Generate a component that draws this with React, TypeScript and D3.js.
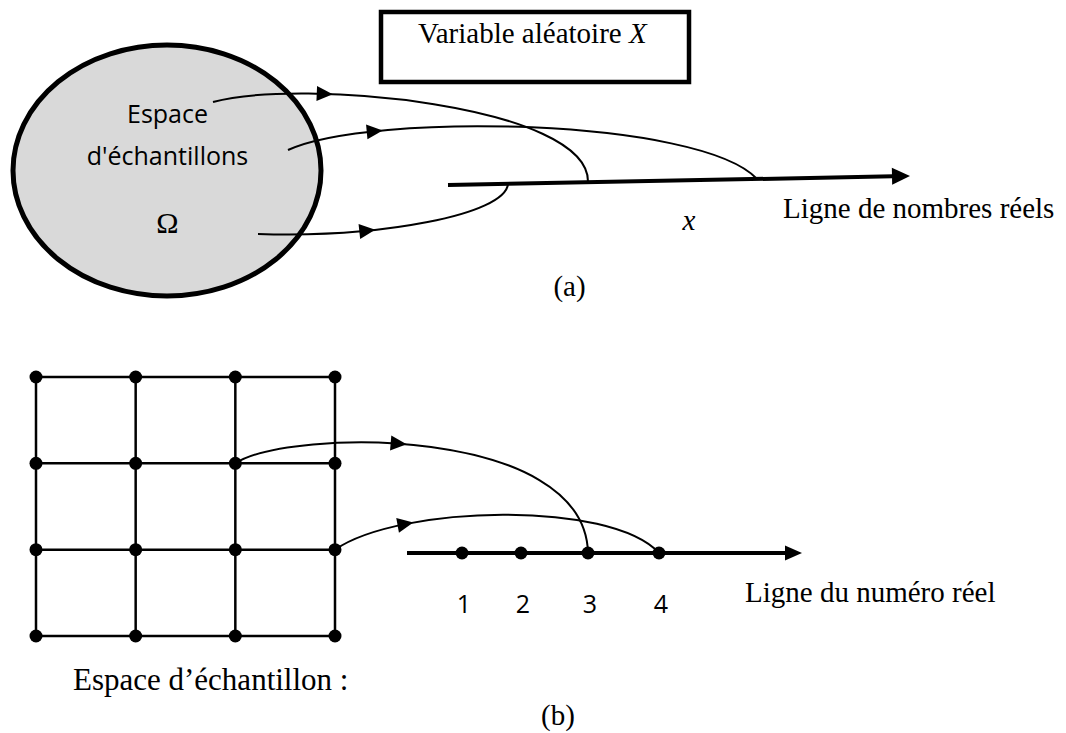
import React from "react";
import * as d3 from "d3";

// ---------- data ----------
const GRID_COLS = [0, 1, 2, 3];
const GRID_ROWS = [0, 1, 2, 3];
const REAL_VALUES = [1, 2, 3, 4];
const REAL_LABELS = ["1", "2", "3", "4"];
const SAMPLE_LABELS_A = ["Espace", "d'échantillons", "Ω"];
// mapping (a): sample label index -> position on the real line (0..1 of the axis)
const MAP_A_FROM = [0, 1, 2];
const MAP_A_TO = [0.303, 0.669, 0.13];
// mapping (b): grid node (col,row) -> real value
const MAP_B_COL = [2, 3];
const MAP_B_ROW = [1, 2];
const MAP_B_TO = [3, 4];

const TITLE_A = "Variable aléatoire ";
const TITLE_A_VAR = "X";
const AXIS_A_LABEL = "Ligne de nombres réels";
const AXIS_A_VAR = "x";
const AXIS_B_LABEL = "Ligne du numéro réel";
const GRID_LABEL = "Espace d’échantillon :";
const CAPTION_A = "(a)";
const CAPTION_B = "(b)";

// ---------- layout ----------
const W = 1066;
const H = 733;
const SERIF = "'Liberation Serif', 'Times New Roman', serif";
const SANS = "'Open Sans', 'Noto Sans', sans-serif";

type P = [number, number];

function bez(p0: P, p1: P, p2: P, p3: P, t: number): P {
  const u = 1 - t;
  return [
    u * u * u * p0[0] + 3 * u * u * t * p1[0] + 3 * u * t * t * p2[0] + t * t * t * p3[0],
    u * u * u * p0[1] + 3 * u * u * t * p1[1] + 3 * u * t * t * p2[1] + t * t * t * p3[1],
  ];
}
function bezD(p0: P, p1: P, p2: P, p3: P, t: number): P {
  const u = 1 - t;
  return [
    3 * u * u * (p1[0] - p0[0]) + 6 * u * t * (p2[0] - p1[0]) + 3 * t * t * (p3[0] - p2[0]),
    3 * u * u * (p1[1] - p0[1]) + 6 * u * t * (p2[1] - p1[1]) + 3 * t * t * (p3[1] - p2[1]),
  ];
}
function arrowHead(tip: P, dir: P, len: number, hw: number): string {
  const m = Math.hypot(dir[0], dir[1]) || 1;
  const ux = dir[0] / m, uy = dir[1] / m;
  const bx = tip[0] - ux * len, by = tip[1] - uy * len;
  const pts: P[] = [tip, [bx - uy * hw, by + ux * hw], [bx + uy * hw, by - ux * hw]];
  return "M" + pts.map((p) => p.join(",")).join("L") + "Z";
}

export default function App() {
  // ---- part (a) ----
  const axA_x = d3.scaleLinear().domain([0, 1]).range([448, 910]);
  const axA_y = d3.scaleLinear().domain([0, 1]).range([185, 176]);
  const labelBaselines = [123, 165, 233];
  const startA: P[] = [[213, 102], [288, 150], [258, 234]];
  const ctrlA: [P, P][] = [
    [[300, 78], [590, 105]],
    [[370, 112], [700, 118]],
    [[380, 238], [505, 215]],
  ];
  const arrowTA = [0.3, 0.24, 0.33];

  // ---- part (b) ----
  const gx = d3.scaleLinear().domain([0, 3]).range([36, 335]);
  const gy = d3.scaleLinear().domain([0, 3]).range([377, 636]);
  const rx = d3.scaleLinear().domain([1, 2, 3, 4]).range([462, 521, 588, 659]);
  const lineBY = 553;
  const ctrlB: [P, P][] = [
    [[290, 428], [585, 425]],
    [[400, 505], [610, 500]],
  ];
  const arrowTB = [0.45, 0.27];

  const lineGen = d3.line();

  return (
    <svg width={W} height={H} viewBox={`0 0 ${W} ${H}`} style={{ display: "block", position: "absolute", left: 0, top: 0 }}>
      <rect x={0} y={0} width={W} height={H} fill="#fff" />
      {/* ---------- (a) ---------- */}
      <ellipse cx={167} cy={170.5} rx={154} ry={125.5} fill="#d9d9d9" stroke="#000" strokeWidth={5} />
      {SAMPLE_LABELS_A.map((s, i) => (
        <text
          key={s}
          x={167.5}
          y={labelBaselines[i]}
          textAnchor="middle"
          fontFamily={i === 2 ? SERIF : SANS}
          fontSize={i === 2 ? 30 : 25}
          fill="#000"
        >
          {s}
        </text>
      ))}
      <rect x={381} y={12} width={308} height={70} fill="#fff" stroke="#000" strokeWidth={4.5} />
      <text x={418} y={43} fontFamily={SERIF} fontSize={29} fill="#000">
        {TITLE_A}
        <tspan fontStyle="italic">{TITLE_A_VAR}</tspan>
      </text>
      {/* axis a */}
      <path
        d={lineGen([[axA_x(0), axA_y(0)], [axA_x(0.963), axA_y(0.963)]]) || ""}
        stroke="#000"
        strokeWidth={4}
        fill="none"
      />
      <path d={arrowHead([axA_x(1), axA_y(1)], [axA_x(1) - axA_x(0), axA_y(1) - axA_y(0)], 18, 8.5)} fill="#000" />
      {MAP_A_FROM.map((fi, i) => {
        const s = startA[fi];
        const e: P = [axA_x(MAP_A_TO[i]), axA_y(MAP_A_TO[i])];
        const [c1, c2] = ctrlA[i];
        const path = d3.path();
        path.moveTo(s[0], s[1]);
        path.bezierCurveTo(c1[0], c1[1], c2[0], c2[1], e[0], e[1]);
        const tip = bez(s, c1, c2, e, arrowTA[i]);
        const dir = bezD(s, c1, c2, e, arrowTA[i]);
        return (
          <g key={"a" + i}>
            <path d={path.toString()} stroke="#000" strokeWidth={2} fill="none" />
            <path d={arrowHead(tip, dir, 16, 7.5)} fill="#000" />
          </g>
        );
      })}
      <text x={689} y={230} textAnchor="middle" fontFamily={SERIF} fontStyle="italic" fontSize={29} fill="#000">
        {AXIS_A_VAR}
      </text>
      <text x={783} y={218} fontFamily={SERIF} fontSize={29} fill="#000">
        {AXIS_A_LABEL}
      </text>
      <text x={569.5} y={296} textAnchor="middle" fontFamily={SERIF} fontSize={29} fill="#000">
        {CAPTION_A}
      </text>

      {/* ---------- (b) ---------- */}
      {GRID_ROWS.map((r) => (
        <line key={"h" + r} x1={gx(0)} x2={gx(3)} y1={gy(r)} y2={gy(r)} stroke="#000" strokeWidth={2.5} />
      ))}
      {GRID_COLS.map((c) => (
        <line key={"v" + c} x1={gx(c)} x2={gx(c)} y1={gy(0)} y2={gy(3)} stroke="#000" strokeWidth={2.5} />
      ))}
      {GRID_ROWS.flatMap((r) =>
        GRID_COLS.map((c) => <circle key={`d${r}-${c}`} cx={gx(c)} cy={gy(r)} r={6.5} fill="#000" />)
      )}
      <text x={73} y={690} fontFamily={SERIF} fontSize={31} fill="#000">
        {GRID_LABEL}
      </text>
      {/* number line b */}
      <line x1={407} x2={788} y1={lineBY} y2={lineBY} stroke="#000" strokeWidth={4} />
      <path d={arrowHead([802, lineBY], [1, 0], 17, 7.5)} fill="#000" />
      {MAP_B_TO.map((v, i) => {
        const s: P = [gx(MAP_B_COL[i]), gy(MAP_B_ROW[i])];
        const e: P = [rx(v), lineBY];
        const [c1, c2] = ctrlB[i];
        const path = d3.path();
        path.moveTo(s[0], s[1]);
        path.bezierCurveTo(c1[0], c1[1], c2[0], c2[1], e[0], e[1]);
        const tip = bez(s, c1, c2, e, arrowTB[i]);
        const dir = bezD(s, c1, c2, e, arrowTB[i]);
        return (
          <g key={"b" + i}>
            <path d={path.toString()} stroke="#000" strokeWidth={2} fill="none" />
            <path d={arrowHead(tip, dir, 16, 7.5)} fill="#000" />
          </g>
        );
      })}
      {REAL_VALUES.map((v, i) => (
        <g key={"r" + v}>
          <circle cx={rx(v)} cy={lineBY} r={6.5} fill="#000" />
          <text x={rx(v) + 2} y={613} textAnchor="middle" fontFamily={SANS} fontSize={25} fill="#000">
            {REAL_LABELS[i]}
          </text>
        </g>
      ))}
      <text x={745} y={602} fontFamily={SERIF} fontSize={29} fill="#000">
        {AXIS_B_LABEL}
      </text>
      <text x={558} y={725} textAnchor="middle" fontFamily={SERIF} fontSize={29} fill="#000">
        {CAPTION_B}
      </text>
    </svg>
  );
}
